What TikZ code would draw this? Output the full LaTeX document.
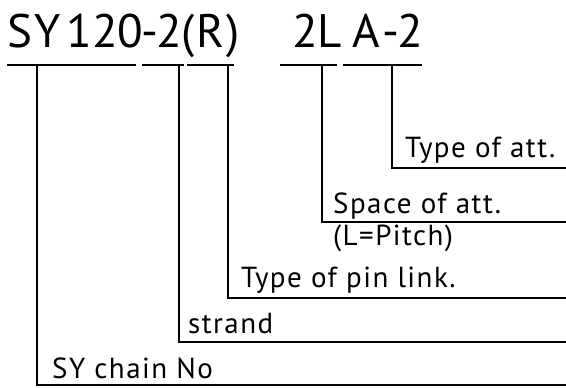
\documentclass[tikz,border=0pt]{standalone}
\usepackage{fontspec}
\setmainfont{PT Sans}
\newfontfamily\labfont[LetterSpace=5]{PT Sans}
\begin{document}
\begin{tikzpicture}[x=1pt,y=-1pt,
  big/.style={anchor=base west, inner sep=0pt, font=\fontsize{47}{50}\selectfont},
  lab/.style={anchor=base west, inner sep=0pt, font=\labfont\fontsize{29}{32}\selectfont},
  ln/.style={line width=1.4pt, line cap=rect}]
\useasboundingbox (0,0) rectangle (566,388);
% title characters
\foreach \c/\x [count=\i] in {S/7, Y/34, 1/66, 2/92, 0/117, -/141, 2/156, {(}/181, R/196, {)}/226, 2/292, L/317, A/352, -/382, 2/397}
  \node[big] (t\i) at (\x,48) {\c};
% underlines
\coordinate (u1a) at (8,65);   \coordinate (u1b) at (135,65);
\coordinate (u2a) at (143,65); \coordinate (u2b) at (183,65);
\coordinate (u3a) at (188,65); \coordinate (u3b) at (233,65);
\coordinate (u4a) at (281,65); \coordinate (u4b) at (336,65);
\coordinate (u5a) at (344,65); \coordinate (u5b) at (421,65);
\draw[ln] (u1a) -- (u1b);
\draw[ln] (u2a) -- (u2b);
\draw[ln] (u3a) -- (u3b);
\draw[ln] (u4a) -- (u4b);
\draw[ln] (u5a) -- (u5b);
% drop points and right ends
\coordinate (d1) at (37,65);  \coordinate (e1) at (567,385);
\coordinate (d2) at (179,65); \coordinate (e2) at (567,342);
\coordinate (d3) at (228,65); \coordinate (e3) at (567,298);
\coordinate (d4) at (322,65); \coordinate (e4) at (567,222);
\coordinate (d5) at (392,65); \coordinate (e5) at (567,168);
\draw[ln] (d1) |- (e1);
\draw[ln] (d2) |- (e2);
\draw[ln] (d3) |- (e3);
\draw[ln] (d4) |- (e4);
\draw[ln] (d5) |- (e5);
% labels
\node[lab] (l5) at (405,157) {Type of att.};
\node[lab] (l4) at (333,213) {Space of att.};
\node[lab] (l4b) at (333,245) {(L=Pitch)};
\node[lab] (l3) at (241,287) {Type of pin link.};
\node[lab] (l2) at (188,333) {strand};
\node[lab] (l1) at (52,378) {SY chain No};
\end{tikzpicture}
\end{document}
